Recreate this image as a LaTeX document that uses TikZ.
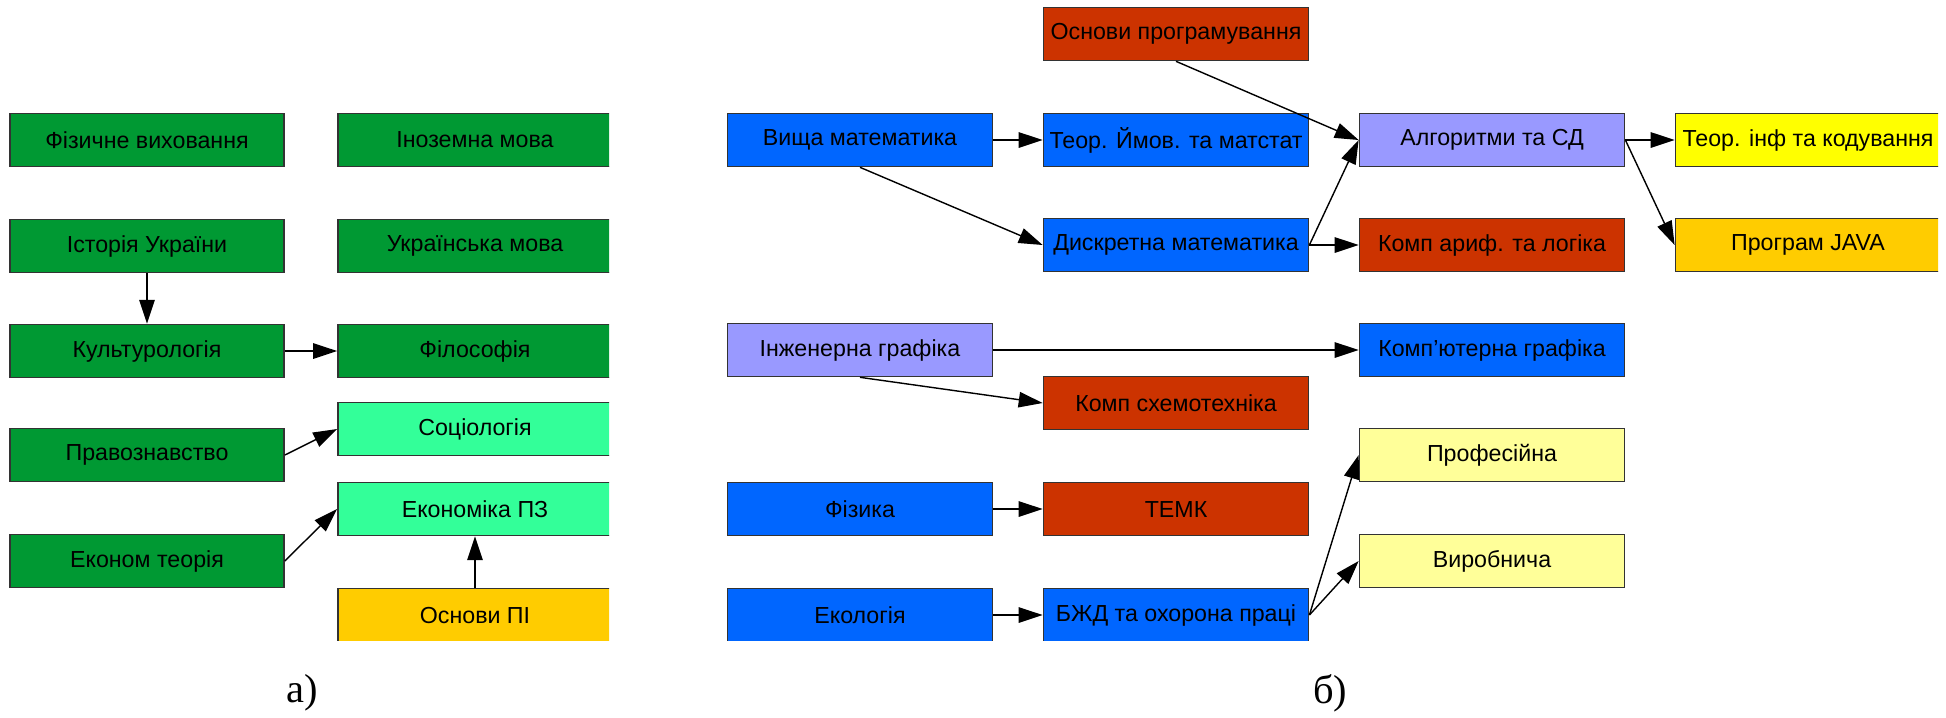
\documentclass[tikz,border=0pt]{standalone}
\usepackage{fontspec}
\setmainfont{Liberation Sans}
\newfontfamily\capfont{Liberation Serif}
\usetikzlibrary{arrows.meta}
\definecolor{dgreen}{RGB}{0,153,51}
\definecolor{lgreen}{RGB}{51,255,153}
\definecolor{gold}{RGB}{255,204,0}
\definecolor{dblue}{RGB}{0,102,255}
\definecolor{dred}{RGB}{204,51,0}
\definecolor{lav}{RGB}{153,153,255}
\definecolor{yel}{RGB}{255,255,0}
\definecolor{lyel}{RGB}{255,255,153}
\tikzset{
  disc/.style={draw=black!80, line width=0.45pt, minimum height=0.53cm, inner sep=0pt,
    font=\fontsize{6.6}{8}\selectfont},
  discl/.style={disc, minimum width=2.74cm},
  discr/.style={disc, minimum width=2.65cm},
  link/.style={-{Triangle[length=6.8pt,width=4.4pt]}, line width=0.4pt, black},
}
\begin{document}
\begin{tikzpicture}[x=0.01cm,y=-0.01cm]
\useasboundingbox (0,0) rectangle (1946,717);

% a)
\begin{scope}
\clip (0,0) rectangle (609,640);
\node[discl, fill=dgreen] (fiz) at (147,140) {Фізичне виховання};
\node[discl, fill=dgreen] (inoz) at (475,140) {Іноземна мова};
\node[discl, fill=dgreen] (ist) at (147,246) {Історія України};
\node[discl, fill=dgreen] (ukr) at (475,246) {Українська мова};
\node[discl, fill=dgreen] (kult) at (147,351) {Культурологія};
\node[discl, fill=dgreen] (filos) at (475,351) {Філософія};
\node[discl, fill=lgreen] (sots) at (475,429) {Соціологія};
\node[discl, fill=dgreen] (prav) at (147,455) {Правознавство};
\node[discl, fill=lgreen] (ekpz) at (475,509) {Економіка ПЗ};
\node[discl, fill=dgreen] (ekteor) at (147,561) {Економ теорія};
\node[discl, fill=gold] (ospi) at (475,615) {Основи ПІ};

\draw[link] (ist) -- (kult);
\draw[link] (kult) -- (filos);
\draw[link] (prav.east) -- (sots.west);
\draw[link] (ekteor.east) -- (ekpz.west);
\draw[link] (ospi) -- (ekpz);
\end{scope}

% b)
\begin{scope}
\clip (700,0) rectangle (1938,640);
\node[discr, fill=dred] (osprog) at (1176,34) {Основи програмування};
\node[discr, fill=dblue] (vyshm) at (860,140) {Вища математика};
\node[discr, fill=dblue] (teorim) at (1176,140) {Теор. Ймов. та матстат};
\node[discr, fill=lav] (alg) at (1492,140) {Алгоритми та СД};
\node[discr, fill=yel] (teorinf) at (1808,140) {Теор. інф та кодування};
\node[discr, fill=dblue] (dyskr) at (1176,245) {Дискретна математика};
\node[discr, fill=dred] (kompar) at (1492,245) {Комп ариф. та логіка};
\node[discr, fill=gold] (java) at (1808,245) {Програм JAVA};
\node[discr, fill=lav] (inzh) at (860,350) {Інженерна графіка};
\node[discr, fill=dblue] (kompgr) at (1492,350) {Комп'ютерна графіка};
\node[discr, fill=dred] (skhem) at (1176,403) {Комп схемотехніка};
\node[discr, fill=lyel] (prof) at (1492,455) {Професійна};
\node[discr, fill=dblue] (fizyka) at (860,509) {Фізика};
\node[discr, fill=dred] (temk) at (1176,509) {ТЕМК};
\node[discr, fill=lyel] (vyrob) at (1492,561) {Виробнича};
\node[discr, fill=dblue] (ekol) at (860,615) {Екологія};
\node[discr, fill=dblue] (bzhd) at (1176,615) {БЖД та охорона праці};

\draw[link] (osprog.south) -- (alg.west);
\draw[link] (vyshm) -- (teorim);
\draw[link] (vyshm.south) -- (dyskr.west);
\draw[link] (dyskr.east) -- (alg.west);
\draw[link] (dyskr) -- (kompar);
\draw[link] (alg) -- (teorinf);
\draw[link] (alg.east) -- (java.west);
\draw[link] (inzh) -- (kompgr);
\draw[link] (inzh.south) -- (skhem.west);
\draw[link] (fizyka) -- (temk);
\draw[link] (ekol) -- (bzhd);
\draw[link] (bzhd.east) -- (prof.west);
\draw[link] (bzhd.east) -- (vyrob.west);
\end{scope}

\node[font=\capfont\fontsize{11.5}{13}\selectfont] (capa) at (302,693) {а)};
\node[font=\capfont\fontsize{11.5}{13}\selectfont] (capb) at (1330,693) {б)};
\end{tikzpicture}
\end{document}
